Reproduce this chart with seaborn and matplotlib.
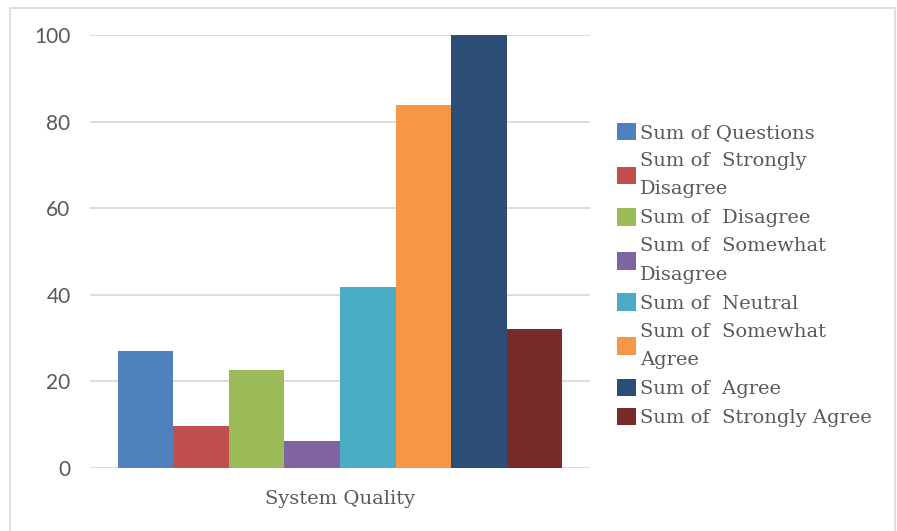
import matplotlib
matplotlib.use("Agg")
import matplotlib.pyplot as plt
import matplotlib.patches as mpatches
import seaborn as sns
import pandas as pd

# Survey response sums for the "System Quality" dimension
category = ["System Quality"]
series = [
    "Sum of Questions",
    "Sum of  Strongly\nDisagree",
    "Sum of  Disagree",
    "Sum of  Somewhat\nDisagree",
    "Sum of  Neutral",
    "Sum of  Somewhat\nAgree",
    "Sum of  Agree",
    "Sum of  Strongly Agree",
]
values = [27, 9.7, 22.6, 6.3, 41.9, 83.9, 100, 32.1]
colors = ["#4f81bd", "#c0504d", "#9bbb59", "#8064a2",
          "#4bacc6", "#f79646", "#2c4d75", "#772c2a"]
y_ticks = [0, 20, 40, 60, 80, 100]

df = pd.DataFrame({
    "category": category * len(series),
    "series": series,
    "value": values,
})

sns.set_theme(style="white")
plt.rcParams["font.family"] = ["DejaVu Serif"]

fig = plt.figure(figsize=(8.97, 5.31), dpi=100)
ax = fig.add_axes([90 / 897, 1 - 468 / 531, 500 / 897, 433 / 531])

sns.barplot(data=df, x="category", y="value", hue="series",
            palette=colors, hue_order=series, width=0.8,
            saturation=1, linewidth=0, ax=ax, legend=True)

ax.set_xlim(-0.45, 0.45)
ax.set_ylim(0, 100)
ax.set_yticks(y_ticks)
ax.yaxis.grid(True, color="#d9d9d9", linewidth=1.3)
ax.set_axisbelow(True)
for s in ax.spines.values():
    s.set_visible(False)
ax.axhline(0, color="#d9d9d9", linewidth=1.3, zorder=0.5)
ax.set_xlabel("")
ax.set_ylabel("")
ax.tick_params(axis="y", length=0, pad=14, labelcolor="#595959")
ax.tick_params(axis="x", length=0, pad=16, labelcolor="#595959")
for lbl in ax.get_yticklabels():
    lbl.set_fontfamily(["Lato", "DejaVu Sans"])
    lbl.set_fontsize(15)
for lbl in ax.get_xticklabels():
    lbl.set_fontsize(14)

handles, labels = ax.get_legend_handles_labels()
ax.get_legend().remove()
leg = fig.legend(handles, labels, loc="center left",
                 bbox_to_anchor=(609 / 897, 1 - 275 / 531),
                 frameon=False, fontsize=14, handlelength=1.0,
                 handleheight=1.0, handletextpad=0.2,
                 labelspacing=0.5, borderaxespad=0)
for t in leg.get_texts():
    t.set_color("#595959")
    t.set_linespacing(1.75)

# light outer frame of the chart area
fig.patches.append(mpatches.Rectangle(
    (10 / 897, -0.01), (895 - 10) / 897, 1 - 8 / 531 + 0.01,
    transform=fig.transFigure, fill=False,
    edgecolor="#d9d9d9", linewidth=1.2))

fig.savefig("out.png", dpi=100)
